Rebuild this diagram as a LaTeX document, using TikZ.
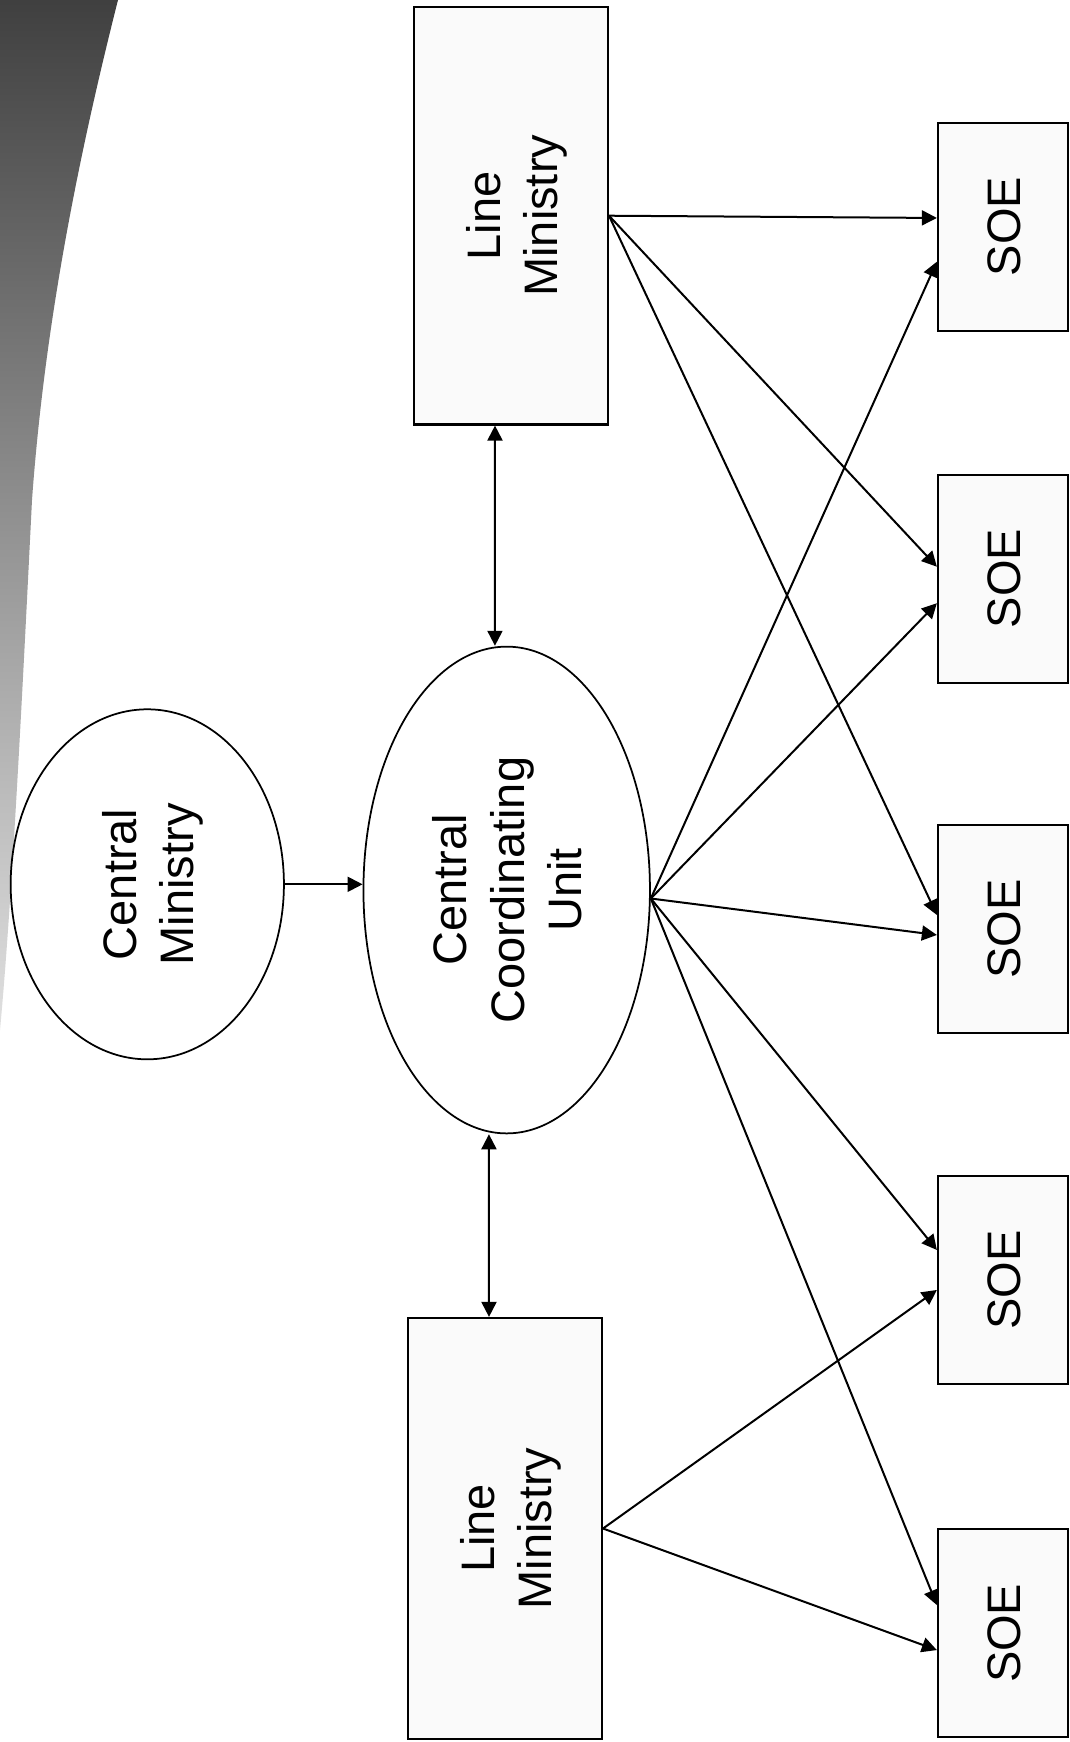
\documentclass[tikz,border=0pt]{standalone}
\usepackage{fontspec}
\setmainfont{Liberation Sans}
\usepackage{graphicx}
\usetikzlibrary{shapes.geometric,arrows.meta}
\newcommand{\rlabel}[1]{\hspace{5pt}\rotatebox{90}{\fontsize{18.8pt}{23pt}\selectfont\begin{tabular}{@{}c@{}}#1\end{tabular}}}
\begin{document}
\begin{tikzpicture}[x=0.4pt,y=-0.4pt,
  lmbox/.style={draw, line width=0.9pt, fill=black!2, inner sep=0pt, minimum width=77.5pt, minimum height=167pt},
  soebox/.style={draw, line width=0.9pt, fill=black!2, inner sep=0pt, minimum width=52pt, minimum height=83.2pt},
  oval/.style={draw, ellipse, line width=0.7pt, fill=white, inner sep=0pt},
  arr/.style={line width=0.8pt, -{Triangle[length=6pt,width=6pt]}},
  darr/.style={line width=0.8pt, {Triangle[length=6pt,width=6pt]}-{Triangle[length=6pt,width=6pt]}}]

\useasboundingbox (0,0) rectangle (1069,1742);
\fill[white] (0,0) rectangle (1069,1742);
\shade[top color=black!75, bottom color=black!12]
  (0,0) -- (118,0) .. controls (80,150) and (45,320) .. (32,500)
  .. controls (22,700) and (12,900) .. (0,1030) -- cycle;

\node[lmbox] (lm1) at (511,215.7) {\rlabel{Line\\Ministry}};
\node[lmbox, minimum height=168.4pt] (lm2) at (505,1528.5) {\rlabel{Line\\Ministry}};
\node[oval, minimum width=109.3pt, minimum height=140pt] (cm) at (147.3,884.3) {\rlabel{Central\\Ministry}};
\node[oval, minimum width=114.6pt, minimum height=194.7pt] (ccu) at (506.7,890) {\rlabel{Central\\Coordinating\\Unit}};

\node[soebox] (soe1) at (1003,226.7) {\rlabel{SOE}};
\node[soebox] (soe2) at (1003,578.7) {\rlabel{SOE}};
\node[soebox] (soe3) at (1003,929.2) {\rlabel{SOE}};
\node[soebox] (soe4) at (1003,1280.2) {\rlabel{SOE}};
\node[soebox] (soe5) at (1003,1633.3) {\rlabel{SOE}};

\draw[arr] (cm.east) -- (cm.east -| ccu.west);
\draw[darr] ([xshift=-6.4pt]lm1.south) -- ([xshift=-4.7pt]ccu.north);
\draw[darr] ([xshift=-7.1pt]ccu.south) -- ([xshift=-6.4pt]lm2.north);

\draw[arr] (lm1.east) -- ([yshift=3.5pt]soe1.west);
\draw[arr] (lm1.east) -- ([yshift=4.8pt]soe2.west);
\draw[arr] (lm1.east) -- ([yshift=5.7pt]soe3.west);

\draw[arr] ([yshift=-3.4pt]ccu.east) -- ([yshift=-14pt]soe1.west);
\draw[arr] ([yshift=-3.4pt]ccu.east) -- ([yshift=-9.8pt]soe2.west);
\draw[arr] ([yshift=-3.4pt]ccu.east) -- ([yshift=-2.3pt]soe3.west);
\draw[arr] ([yshift=-3.4pt]ccu.east) -- ([yshift=12.1pt]soe4.west);
\draw[arr] ([yshift=-3.4pt]ccu.east) -- ([yshift=11.3pt]soe5.west);

\draw[arr] (lm2.east) -- ([yshift=-3.9pt]soe4.west);
\draw[arr] (lm2.east) -- ([yshift=-6.7pt]soe5.west);
\end{tikzpicture}
\end{document}
